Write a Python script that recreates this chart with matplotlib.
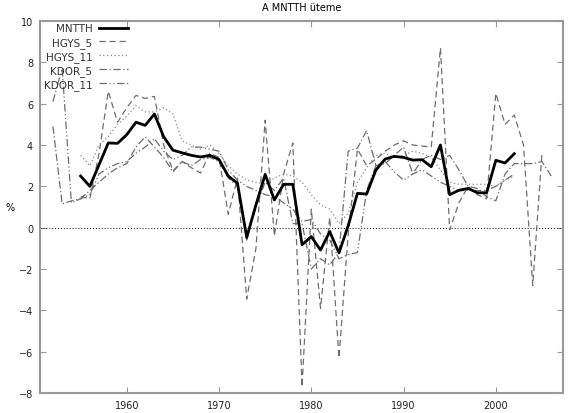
import numpy as np
import matplotlib
matplotlib.use('Agg')
import matplotlib.pyplot as plt

# evek es adatsorok (leolvasva az abrarol)
mnt_years = list(range(1955, 2003))
mnt_vals = [2.5, 2.0, 3.05, 4.1, 4.08, 4.5, 5.1, 4.95, 5.5, 4.4,
            3.75, 3.62, 3.5, 3.42, 3.5, 3.3, 2.5, 2.15, -0.47, 1.1,
            2.58, 1.34, 2.1, 2.1, -0.82, -0.43, -1.08, -0.19, -1.22, 0.1,
            1.66, 1.63, 2.79, 3.32, 3.45, 3.4, 3.27, 3.29, 2.95, 4.0,
            1.6, 1.81, 1.9, 1.69, 1.69, 3.26, 3.13, 3.58]

hgys5_years = list(range(1955, 2006))
hgys5_vals = [1.5, 1.4, 3.6, 6.6, 5.1, 5.8, 6.4, 6.25, 6.35, 4.0,
              2.75, 3.2, 2.9, 2.65, 3.6, 3.4, 0.65, 2.4, -3.45, -1.0,
              5.2, -0.4, 2.6, 4.1, -7.7, 0.9, -3.9, 0.5, -6.3, -0.3,
              3.8, 3.0, 3.3, 3.7, 4.0, 4.2, 4.0, 3.95, 3.9, 8.7,
              -0.1, 1.2, 2.0, 1.6, 1.4, 6.5, 5.0, 5.45, 4.0, -2.8,
              3.6]

hgys11_years = list(range(1955, 2003))
hgys11_vals = [3.5, 3.0, 4.0, 4.4, 5.0, 5.4, 5.9, 5.6, 5.6, 5.8,
               5.5, 4.2, 4.0, 3.8, 4.0, 3.6, 3.0, 2.6, 2.3, 2.2,
               2.1, 2.4, 2.6, 2.5, 2.2, 1.6, 1.1, 0.9, 0.2, 0.7,
               2.2, 2.9, 3.5, 3.6, 3.4, 3.5, 3.7, 3.6, 3.4, 2.8,
               2.2, 2.1, 2.1, 2.1, 2.1, 2.0, 2.3, 2.5]

kdor5_years = list(range(1952, 2007))
kdor5_vals = [4.9, 1.15, 1.3, 1.4, 1.8, 2.2, 2.6, 2.9, 3.1, 3.9,
              4.4, 3.9, 3.4, 2.7, 3.2, 3.0, 3.3, 3.4, 3.2, 2.4,
              2.0, -0.6, 1.0, 2.2, 1.8, 2.4, 0.2, 0.2, -2.0, -1.5,
              -1.8, -1.2, 3.7, 3.85, 4.7, 3.0, 3.1, 3.5, 3.9, 2.6,
              3.3, 3.5, 3.3, 3.5, 2.8, 2.0, 1.9, 1.5, 1.3, 2.6,
              3.1, 3.1, 3.1, 3.2, 2.5]

kdor11_years = list(range(1952, 2003))
kdor11_vals = [6.1, 7.7, 1.2, 1.4, 1.6, 2.6, 2.9, 3.1, 3.2, 3.6,
               3.9, 4.3, 3.7, 3.3, 3.5, 3.9, 3.9, 3.8, 3.7, 2.8,
               2.3, 2.0, 1.8, 1.6, 1.5, 1.2, 0.9, 0.3, 0.4, -0.3,
               -0.6, -1.5, -1.3, -1.2, 1.8, 3.0, 3.2, 2.7, 2.3, 2.6,
               2.8, 2.5, 2.2, 2.0, 1.8, 1.8, 1.8, 1.8, 2.0, 2.3,
               2.6]

plt.rcParams['font.family'] = 'DejaVu Sans'
fig = plt.figure(figsize=(5.8, 4.14), dpi=100)
ax = fig.add_axes([0.069, 0.048, 0.902, 0.899])

grey = '#6e6e6e'
ax.axhline(0, color='black', lw=0.7, ls=(0, (1, 2)))
ax.plot(mnt_years, mnt_vals, color='black', lw=2, label='MNTTH', zorder=5)
ax.plot(hgys5_years, hgys5_vals, color=grey, lw=0.9, ls=(0, (5, 3)), label='HGYS_5')
ax.plot(hgys11_years, hgys11_vals, color='#8a8a8a', lw=0.9, ls=(0, (1, 2)), label='HGYS_11')
ax.plot(kdor5_years, kdor5_vals, color=grey, lw=0.9, ls=(0, (6, 2, 1, 2)), label='KDOR_5')
ax.plot(kdor11_years, kdor11_vals, color=grey, lw=0.9, ls=(0, (6, 2, 1, 2, 1, 2)), label='KDOR_11')

ax.set_xlim(1950.6, 2007.3)
ax.set_ylim(-8, 10)
ax.set_xticks([1960, 1970, 1980, 1990, 2000])
ax.set_yticks(range(-8, 11, 2))
ax.tick_params(direction='in', top=True, right=True, length=4, color='#999999',
               labelsize=7, labelcolor='#222222', pad=5)
for s in ax.spines.values():
    s.set_color('#999999')
    s.set_linewidth(1.5)

ax.set_title('A MNTTH üteme', fontsize=7, pad=8)
ax.set_ylabel('%', fontsize=7, rotation=0, va='center', ha='center')
ax.yaxis.set_label_coords(-0.058, 0.5)

leg = ax.legend(loc='upper left', bbox_to_anchor=(-0.005, 1.01), frameon=False,
                markerfirst=False, fontsize=7.5, handlelength=2.8,
                handletextpad=0.6, labelspacing=0.3, borderaxespad=0.2)
for t in leg.get_texts():
    t.set_color('#333333')

fig.savefig('out.png', dpi=100)
